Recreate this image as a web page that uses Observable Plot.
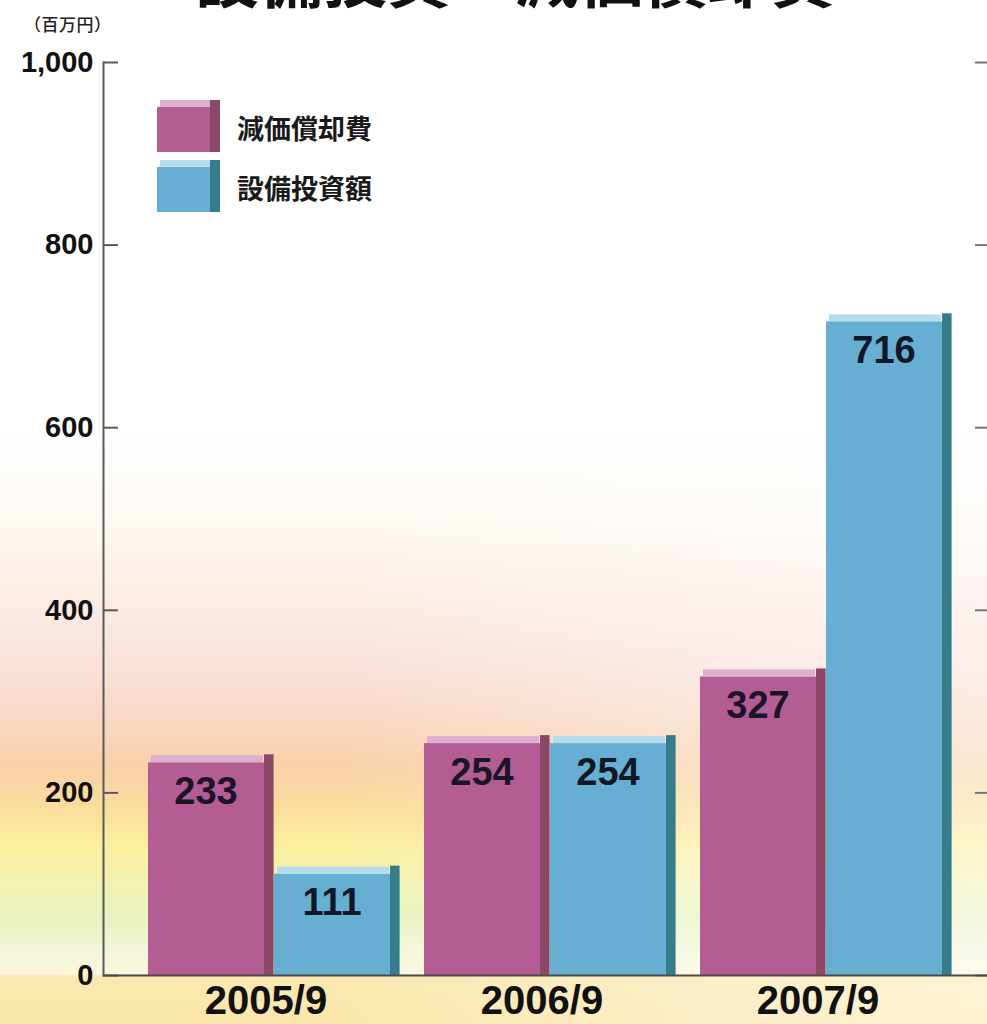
<!DOCTYPE html>
<html>
<head>
<meta charset="utf-8">
<script src="https://cdn.jsdelivr.net/npm/d3@7"></script>
<script src="https://cdn.jsdelivr.net/npm/@observablehq/plot@0.6"></script>
<style>
  body { margin: 0; }
  #wrap {
    position: relative; width: 987px; height: 1024px; overflow: hidden;
    background:
      linear-gradient(to right, rgba(255,255,255,0) 0%, rgba(255,255,255,0) 35%, rgba(255,255,255,0.3) 70%, rgba(255,255,255,0.45) 100%),
      linear-gradient(to bottom, #ffffff 0%, #ffffff 42%, #fefaf4 50%, #fcefe8 57%, #fae2dc 64%, #f9d8c4 70%, #f9d1a8 75%, #fbdd9c 79%, #fcee9e 82.5%, #f0f3b4 86.5%, #e8f1be 89.5%, #f3f6da 93%, #fbf6dc 95.1%, #fbe8b0 95.4%, #fbe6ac 100%);
    font-family: "Liberation Sans", Arial, sans-serif;
  }
  #title {
    position: absolute; left: 195px; top: -58px; font-size: 64px; line-height: 64px;
    font-weight: 700; font-family: "Noto Sans CJK JP", sans-serif; color: #111; white-space: nowrap;
  }
  #unit {
    position: absolute; left: 24px; top: 11px; font-size: 17px; font-weight: 500; letter-spacing: 0.5px;
    font-family: "Noto Sans CJK JP", sans-serif; color: #222;
  }
  .lg { position: absolute; left: 157px; width: 70px; height: 52px; }
  .lg .top { position: absolute; left: 3px; top: 0; width: 60px; height: 7px; }
  .lg .front { position: absolute; left: 0; top: 7px; width: 54px; height: 45px; }
  .lg .side { position: absolute; left: 53px; top: 0; width: 10px; height: 52px; }
  .lgt { position: absolute; left: 237px; font-size: 27px; font-weight: 700; line-height: 30px;
    font-family: "Noto Sans CJK JP", sans-serif; color: #1a1a1a; }
  #chart { position: absolute; left: 0; top: 0; }
</style>
</head>
<body>
<div id="wrap">
  <div id="title"></div>
  <div id="unit"></div>
  <div id="legend"></div>
  <div id="chart"></div>
</div>
<script>
const titleText = "設備投資・減価償却費";
const unitText = "（百万円）";
const years = ["2005/9", "2006/9", "2007/9"];
const seriesNames = ["減価償却費", "設備投資額"];
const depreciation = [233, 254, 327];
const capex = [111, 254, 716];
const yTicks = [0, 200, 400, 600, 800, 1000];

const pink = {front: "#b45c94", side: "#8a4866", top: "#dcaed0"};
const blue = {front: "#66aed2", side: "#367d8c", top: "#b4dcec"};

document.getElementById("title").textContent = titleText;
document.getElementById("unit").textContent = unitText;

// legend
const legend = document.getElementById("legend");
[[seriesNames[0], pink, 100], [seriesNames[1], blue, 160]].forEach(([name, c, top]) => {
  const box = document.createElement("div");
  box.className = "lg"; box.style.top = top + "px";
  box.innerHTML = `<div class="top" style="background:${c.top}"></div><div class="front" style="background:${c.front}"></div><div class="side" style="background:${c.side}"></div>`;
  legend.appendChild(box);
  const t = document.createElement("div");
  t.className = "lgt"; t.style.top = (top + 13) + "px"; t.textContent = name;
  legend.appendChild(t);
});

const dep = years.map((year, i) => ({year, series: seriesNames[0], value: depreciation[i]}));
const cap = years.map((year, i) => ({year, series: seriesNames[1], value: capex[i]}));

const W = 987, H = 1024, mL = 103, mR = 0, mT = 62, mB = 49;
const frameW = W - mL - mR;
const half = 126, side = 10, depth = 8;

function bars(data, c, leftInset) {
  return [
    Plot.barY(data, {x: "year", y: "value", fill: c.front, insetLeft: leftInset, insetRight: 2 * half - leftInset - (half - side) - 1}),
    Plot.barY(data, {x: "year", y: "value", fill: c.side, insetLeft: leftInset + half - side, insetRight: 2 * half - leftInset - half - 0.6, insetTop: -depth}),
    Plot.barY(data, {x: "year", y1: "value", y2: "value", fill: c.top, insetLeft: leftInset + 3, insetRight: 2 * half - leftInset - half + side, insetTop: -(depth - 1)})
  ];
}

const numFont = "'Liberation Sans', Arial, sans-serif";

const chart = Plot.plot({
  width: W, height: H,
  marginLeft: mL, marginRight: mR, marginTop: mT, marginBottom: mB,
  style: {background: "transparent", fontFamily: numFont},
  x: {type: "band", domain: years, range: [147, 953], paddingInner: 0.09, paddingOuter: 0},
  y: {domain: [0, 1000]},
  marks: [
    ...bars(dep, pink, 0),
    ...bars(cap, blue, half),
    Plot.text(dep, {x: "year", y: "value", text: d => String(d.value), dx: -68, dy: 29, fontSize: 38, fontWeight: 700, fill: "#1c1428", letterSpacing: 1}),
    Plot.text(cap, {x: "year", y: "value", text: d => String(d.value), dx: 58, dy: 29, fontSize: 38, fontWeight: 700, fill: "#101828", letterSpacing: 1}),
    Plot.frame({anchor: "left", stroke: "#5a5a5a", strokeWidth: 2}),
    Plot.frame({anchor: "right", stroke: "#d8d8d8", strokeWidth: 1}),
    Plot.tickY(yTicks, {y: d => d, insetRight: frameW - 15, stroke: "#5a5a5a", strokeWidth: 2}),
    Plot.tickY(yTicks, {y: d => d, insetLeft: frameW - 12, stroke: "#777", strokeWidth: 2}),
    Plot.ruleY([0], {stroke: "#4a4a4a", strokeWidth: 2}),
    Plot.axisY({ticks: yTicks, tickSize: 0, tickPadding: 10, tickFormat: d => d3.format(",")(d), fontSize: 29, fontWeight: 700, fill: "#111", label: null, letterSpacing: 0.5}),
    Plot.axisX({tickSize: 0, tickPadding: 10, fontSize: 40, fontWeight: 700, fill: "#111", label: null, dx: -8, letterSpacing: 2})
  ]
});
document.getElementById("chart").appendChild(chart);
</script>
</body>
</html>
